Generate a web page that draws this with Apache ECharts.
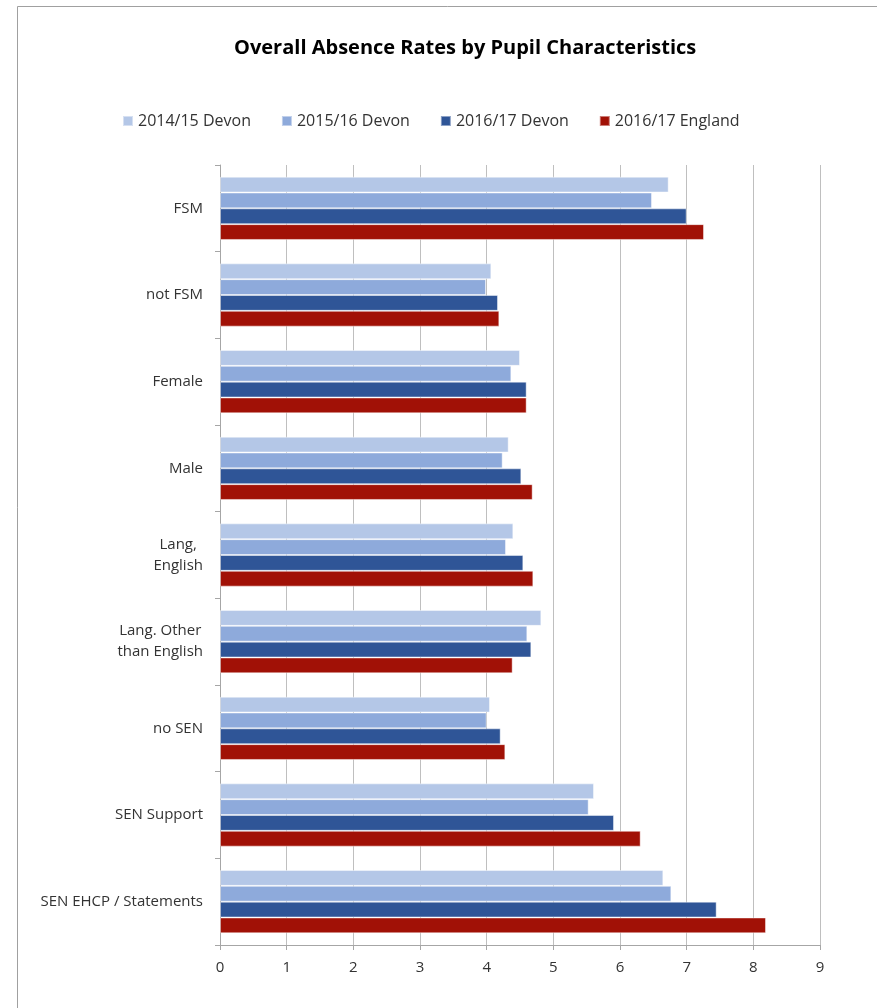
<!DOCTYPE html>
<html>
<head>
<meta charset="utf-8">
<script src="https://cdn.jsdelivr.net/npm/echarts@6/dist/echarts.min.js"></script>
<style>
  html, body { margin: 0; padding: 0; background: #ffffff; }
  #chart { width: 877px; height: 1008px; }
</style>
</head>
<body>
<div id="chart"></div>
<script>
// Pupil characteristic groups (top to bottom)
const categories = [
  'FSM', 'not FSM', 'Female', 'Male', 'Lang,\nEnglish',
  'Lang. Other\nthan English', 'no SEN', 'SEN Support', 'SEN EHCP / Statements'
];

// Overall absence rate (%) per group
const devon1415 = [6.73, 4.07, 4.50, 4.33, 4.40, 4.82, 4.05, 5.61, 6.65];
const devon1516 = [6.48, 3.99, 4.37, 4.24, 4.29, 4.61, 4.00, 5.53, 6.77];
const devon1617 = [7.00, 4.17, 4.60, 4.52, 4.55, 4.67, 4.21, 5.91, 7.45];
const england1617 = [7.26, 4.19, 4.60, 4.69, 4.70, 4.39, 4.28, 6.31, 8.19];

const seriesNames = ['2014/15 Devon', '2015/16 Devon', '2016/17 Devon', '2016/17 England'];
const seriesColors = ['#B4C7E7', '#8EAADB', '#2F5597', '#A11106'];
const xTicks = [0, 1, 2, 3, 4, 5, 6, 7, 8, 9];

const FONT = '"Open Sans", "Noto Sans", sans-serif';
const values = [devon1415, devon1516, devon1617, england1617];

// Multi-line labels are centred line by line; single-line labels stay right-aligned
function labelFormatter(v) {
  return String(v).split('\n').map(s => '{c|' + s + '}').join('\n');
}

const chart = echarts.init(document.getElementById('chart'), null, { renderer: 'canvas' });

chart.setOption({
  backgroundColor: '#ffffff',
  animation: false,
  title: {
    text: 'Overall Absence Rates by Pupil Characteristics',
    left: 229,
    top: 33,
    textStyle: { fontFamily: FONT, fontSize: 20, fontWeight: 'bold', color: '#000000' }
  },
  legend: {
    data: seriesNames,
    top: 108,
    left: 117,
    icon: 'rect',
    itemWidth: 10,
    itemHeight: 10,
    itemGap: 30,
    textStyle: { fontFamily: FONT, fontSize: 16, color: '#333333' }
  },
  grid: { left: 220, right: 57, top: 165, bottom: 63, containLabel: false },
  xAxis: {
    type: 'value',
    min: xTicks[0],
    max: xTicks[xTicks.length - 1],
    interval: 1,
    axisLine: { show: true, lineStyle: { color: '#a6a6a6', width: 1 } },
    axisTick: { show: true, length: 5, lineStyle: { color: '#a6a6a6' } },
    splitLine: { show: true, lineStyle: { color: '#bfbfbf', width: 1 } },
    axisLabel: { fontFamily: FONT, fontSize: 15, color: '#333333', margin: 15 }
  },
  yAxis: {
    type: 'category',
    data: categories,
    inverse: true,
    axisLine: { show: true, lineStyle: { color: '#a6a6a6', width: 1 } },
    axisTick: { show: true, length: 5, lineStyle: { color: '#a6a6a6' } },
    axisLabel: {
      margin: 17,
      formatter: labelFormatter,
      rich: {
        c: { fontFamily: FONT, fontSize: 15, color: '#333333', align: 'center', lineHeight: 21 }
      }
    }
  },
  graphic: [{
    type: 'rect',
    shape: { x: 17.5, y: 6.5, width: 900, height: 1100 },
    style: { fill: 'none', stroke: '#a0a0a0', lineWidth: 1 },
    silent: true
  }],
  series: seriesNames.map((name, i) => ({
    name: name,
    type: 'bar',
    data: values[i],
    barGap: '0%',
    barCategoryGap: '27%',
    itemStyle: {
      color: seriesColors[i],
      borderColor: 'rgba(255,255,255,0.45)',
      borderWidth: 1
    }
  }))
});
</script>
</body>
</html>
